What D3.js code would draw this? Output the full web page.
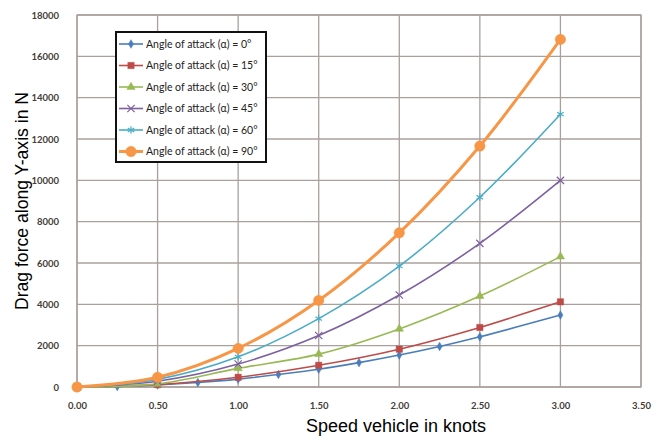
<!DOCTYPE html>
<html>
<head>
<meta charset="utf-8">
<script src="https://cdn.jsdelivr.net/npm/d3@7"></script>
<style>
  body { margin: 0; background: #fff; }
  .tick text { font-family: Lato, "Liberation Sans", sans-serif; font-size: 9.5px; font-weight: bold; fill: #443c38; }
</style>
</head>
<body>
<div id="chart"></div>
<script>
// speeds in knots, drag force in N
const speeds = [0, 0.5, 1, 1.5, 2, 2.5, 3]
const speedsFine = [0, 0.25, 0.5, 0.75, 1, 1.25, 1.5, 1.75, 2, 2.25, 2.5, 3]
const drag0 = [0, 25, 97, 215, 380, 605, 860, 1180, 1545, 1960, 2430, 3480]
const drag15 = [0, 115, 470, 1050, 1830, 2880, 4120]
const drag30 = [0, 150, 900, 1590, 2810, 4400, 6310]
const drag45 = [0, 280, 1110, 2490, 4450, 6950, 10000]
const drag60 = [0, 370, 1460, 3310, 5850, 9180, 13200]
const drag90 = [0, 470, 1870, 4190, 7460, 11660, 16820]
const seriesNames = ["Angle of attack (α) = 0°", "Angle of attack (α) = 15°", "Angle of attack (α) = 30°",
    "Angle of attack (α) = 45°", "Angle of attack (α) = 60°", "Angle of attack (α) = 90°"]
const xTicks = [0, 0.5, 1, 1.5, 2, 2.5, 3, 3.5]
const yTicks = [0, 2000, 4000, 6000, 8000, 10000, 12000, 14000, 16000, 18000]

const series = [
    { name: seriesNames[0], xs: speedsFine, ys: drag0, color: "#4a7ebb", width: 1.6, symbol: d3.symbolDiamond, size: 22, fill: true },
    { name: seriesNames[1], xs: speeds, ys: drag15, color: "#be4b48", width: 1.6, symbol: d3.symbolSquare, size: 40, fill: true },
    { name: seriesNames[2], xs: speeds, ys: drag30, color: "#98b954", width: 1.6, symbol: d3.symbolTriangle, size: 30, fill: true },
    { name: seriesNames[3], xs: speeds, ys: drag45, color: "#7d60a0", width: 1.6, symbol: d3.symbolTimes, size: 36, fill: false },
    { name: seriesNames[4], xs: speeds, ys: drag60, color: "#4bacc6", width: 1.6, symbol: d3.symbolAsterisk, size: 40, fill: false },
    { name: seriesNames[5], xs: speeds, ys: drag90, color: "#f79646", width: 3, symbol: d3.symbolCircle, size: 85, fill: true }
]

const W = 661, H = 439
const margin = { top: 15, right: 20, bottom: 52, left: 77 }
const width = W - margin.left - margin.right
const height = H - margin.top - margin.bottom
const gridColor = "#aaa09b"

const svg = d3.select("#chart").append("svg")
    .attr("width", W).attr("height", H)
    .style("font-family", "Lato, sans-serif")
const g = svg.append("g").attr("transform", `translate(${margin.left},${margin.top})`)

const x = d3.scaleLinear().domain([0, 3.5]).range([0, width])
const y = d3.scaleLinear().domain([0, 18000]).range([height, 0])

// grid
g.append("g").selectAll("line").data(yTicks).join("line")
    .attr("x1", 0).attr("x2", width)
    .attr("y1", d => y(d)).attr("y2", d => y(d))
    .attr("stroke", gridColor).attr("stroke-width", 1.3)
g.append("g").selectAll("line").data(xTicks).join("line")
    .attr("y1", 0).attr("y2", height)
    .attr("x1", d => x(d)).attr("x2", d => x(d))
    .attr("stroke", gridColor).attr("stroke-width", 1.3)
g.append("rect").attr("width", width).attr("height", height)
    .attr("fill", "none").attr("stroke", gridColor).attr("stroke-width", 1.3)

// axes (labels only)
const xAxis = g.append("g").attr("transform", `translate(0,${height})`)
    .call(d3.axisBottom(x).tickValues(xTicks).tickFormat(d3.format(".2f")).tickSize(0).tickPadding(15))
xAxis.select(".domain").remove()
const yAxis = g.append("g")
    .call(d3.axisLeft(y).tickValues(yTicks).tickFormat(d3.format("d")).tickSize(0).tickPadding(18))
yAxis.select(".domain").remove()

// lines
const line = d3.line().x(d => x(d[0])).y(d => y(d[1])).curve(d3.curveCatmullRom.alpha(0.5))
series.forEach(s => {
    const pts = s.xs.map((v, i) => [v, s.ys[i]])
    g.append("path").datum(pts)
        .attr("d", line).attr("fill", "none")
        .attr("stroke", s.color).attr("stroke-width", s.width)
    g.append("g").selectAll("path").data(pts).join("path")
        .attr("transform", d => `translate(${x(d[0])},${y(d[1])})`)
        .attr("d", d3.symbol(s.symbol, s.size))
        .attr("fill", s.fill ? s.color : "none")
        .attr("stroke", s.color).attr("stroke-width", s.fill ? 0.5 : 1.2)
})

// axis titles
svg.append("text")
    .attr("x", 396).attr("y", 432)
    .attr("text-anchor", "middle")
    .style("font-family", "Liberation Sans, Arial, sans-serif").style("font-size", "18px")
    .text("Speed vehicle in knots")
svg.append("text")
    .attr("transform", "translate(28,201) rotate(-90)")
    .attr("text-anchor", "middle")
    .style("font-family", "Liberation Sans, Arial, sans-serif").style("font-size", "17.6px")
    .text("Drag force along Y-axis in N")

// legend
const legend = svg.append("g").attr("transform", "translate(116,32)")
legend.append("rect").attr("width", 150).attr("height", 130)
    .attr("fill", "#fff").attr("stroke", "#111").attr("stroke-width", 2)
const rows = legend.selectAll("g.row").data(series).join("g")
    .attr("class", "row")
    .attr("transform", (d, i) => `translate(0,${12 + i * 21.5})`)
rows.append("line").attr("x1", 3).attr("x2", 27)
    .attr("stroke", d => d.color).attr("stroke-width", d => d.width)
rows.append("path")
    .attr("transform", "translate(15,0)")
    .attr("d", d => d3.symbol(d.symbol, d.size)())
    .attr("fill", d => d.fill ? d.color : "none")
    .attr("stroke", d => d.color).attr("stroke-width", d => d.fill ? 0.5 : 1.2)
rows.append("text").attr("x", 30).attr("y", 3.5)
    .style("font-family", "Lato, sans-serif").style("font-size", "10.5px").attr("fill", "#222")
    .text(d => d.name)
</script>
</body>
</html>
